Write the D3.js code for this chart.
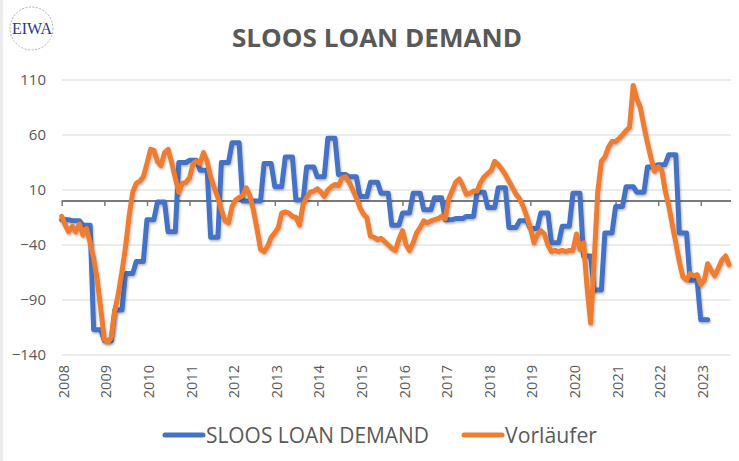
<!DOCTYPE html>
<html>
<head>
<meta charset="utf-8">
<script src="https://cdn.jsdelivr.net/npm/d3@7"></script>
<style>
  body { margin: 0; background: #fff; }
  text { font-family: "Open Sans", sans-serif; }
</style>
</head>
<body>
<div id="chart"></div>
<script>
const years = [2008, 2009, 2010, 2011, 2012, 2013, 2014, 2015, 2016, 2017, 2018, 2019, 2020, 2021, 2022, 2023];
const yTicks = [-140, -90, -40, 10, 60, 110];

// SLOOS loan demand, quarterly from Q1 2008 to Q1 2023
const sloosDemand = [
  -17, -18, -22, -117,
  -127, -99, -66, -55,
  -17, -1, -28, 35,
  37, 28, -33, 35,
  53, 0, 0, 34,
  13, 40, 1, 31,
  22, 57, 24, 22,
  4, 17, 7, -22,
  -11, 7, -8, 3,
  -17, -16, -14, 8,
  -6, 12, -24, -18,
  -25, -11, -38, -23,
  7, -50, -81, -29,
  -5, 13, 8, 31,
  33, 42, -29, -72,
  -108
];

// Vorläufer, monthly from Jan 2008 to Sep 2023
const vorlaeufer = [
  -14, -22, -28, -23, -28, -21, -31, -25, -38, -52, -72, -98,
  -126, -128, -124, -99, -84, -64, -42, -14, 8, 16, 18, 22,
  34, 47, 46, 36, 32, 44, 47, 35, 21, 8, 16, 17,
  21, 34, 36, 34, 44, 36, 22, 12, 3, -8, -18, -20,
  -5, 1, 3, 5, 12, 5, -8, -25, -44, -46, -41, -33,
  -29, -24, -11, -10, -11, -14, -15, -22, -3, 3, 8, 9,
  11, 8, 4, 10, 13, 15, 14, 21, 22, 17, 10, 3,
  -6, -12, -15, -32, -33, -35, -34, -37, -40, -43, -45, -35,
  -27, -40, -45, -38, -29, -24, -18, -20, -18, -17, -16, -14,
  -16, 2, 9, 17, 20, 14, 6, 7, 9, 9, 17, 22,
  25, 28, 36, 33, 29, 24, 18, 12, 6, 2, -5, -14,
  -24, -38, -31, -27, -30, -40, -46, -45, -46, -45, -46, -45,
  -45, -30, -44, -38, -78, -111, -55, 8, 36, 40, 49, 54,
  54, 57, 60, 64, 67, 105, 93, 85, 68, 53, 39, 27,
  31, 28, 10, -4, -21, -38, -55, -69, -72, -66, -68, -67,
  -76, -72, -57, -63, -68, -61, -54, -50, -58
];

const width = 739;
const height = 461;
const textColor = '#595959';

const svg = d3.select('#chart')
  .append('svg')
  .attr('width', width)
  .attr('height', height)

const defs = svg.append('defs')
defs.append('filter')
  .attr('id', 'shadow')
  .attr('x', '-5%').attr('y', '-5%').attr('width', '110%').attr('height', '110%')
  .append('feDropShadow')
  .attr('dx', 0.8).attr('dy', 1.5)
  .attr('stdDeviation', 1.2)
  .attr('flood-color', '#000')
  .attr('flood-opacity', 0.3)

// faint frame strip on the left edge
svg.append('rect')
  .attr('x', 0).attr('y', 0)
  .attr('width', 3).attr('height', height)
  .attr('fill', '#ebebeb')

const xScale = d3.scaleTime()
  .domain([new Date(2008, 0, 1), new Date(2023, 8, 1)])
  .range([61.7, 729.1])

const yScale = d3.scaleLinear()
  .domain([-140, 110])
  .range([355, 80])

// horizontal gridlines
svg.append('g')
  .selectAll('line')
  .data(yTicks)
  .enter()
  .append('line')
  .attr('x1', 62)
  .attr('x2', 731)
  .attr('y1', d => yScale(d))
  .attr('y2', d => yScale(d))
  .attr('stroke', '#d9d9d9')
  .attr('stroke-width', 1)

// y labels
const yAxis = d3.axisLeft(yScale)
  .tickValues(yTicks)
  .tickSize(0)
  .tickPadding(0)
  .tickFormat(d3.format('d'))

svg.append('g')
  .attr('transform', 'translate(46, 0)')
  .call(yAxis)
  .call(g => g.select('.domain').remove())
  .selectAll('text')
  .attr('fill', textColor)
  .style('font-size', '15px')
  .style('font-family', '"Open Sans", sans-serif')

// category axis crossing at zero
const xAxis = d3.axisBottom(xScale)
  .tickValues(years.map(y => new Date(y, 0, 1)))
  .tickSize(5)
  .tickSizeOuter(0)
  .tickFormat('')

svg.append('g')
  .attr('transform', `translate(0, ${yScale(0)})`)
  .call(xAxis)
  .call(g => g.select('.domain').attr('stroke', '#7a7a7a').attr('stroke-width', 2.2).attr('d', `M61.7,0H731`))
  .call(g => g.selectAll('.tick line').attr('stroke', '#7a7a7a').attr('stroke-width', 1.5))

// year labels at the bottom
svg.append('g')
  .selectAll('text')
  .data(years)
  .enter()
  .append('text')
  .attr('transform', d => `translate(${xScale(new Date(d, 0, 1)) + 2}, 365) rotate(-90)`)
  .attr('text-anchor', 'end')
  .attr('dy', '0.35em')
  .attr('fill', textColor)
  .style('font-size', '14.5px')
  .text(d => d)

// series
const sloosPoints = [];
sloosDemand.forEach((v, q) => {
  sloosPoints.push({ date: new Date(2008, q * 3, 1), value: v });
  sloosPoints.push({ date: new Date(2008, q * 3 + 2, 1), value: v });
});

const vorPoints = vorlaeufer.map((v, m) => ({ date: new Date(2008, m, 1), value: v }));

const line = d3.line()
  .x(d => xScale(d.date))
  .y(d => yScale(d.value))

svg.append('path')
  .datum(sloosPoints)
  .attr('d', line)
  .attr('fill', 'none')
  .attr('stroke', '#4472c4')
  .attr('stroke-width', 5)
  .attr('stroke-linejoin', 'round')
  .attr('stroke-linecap', 'round')
  .attr('filter', 'url(#shadow)')

svg.append('path')
  .datum(vorPoints)
  .attr('d', line)
  .attr('fill', 'none')
  .attr('stroke', '#ed7d31')
  .attr('stroke-width', 5)
  .attr('stroke-linejoin', 'round')
  .attr('stroke-linecap', 'round')
  .attr('filter', 'url(#shadow)')

// title
svg.append('text')
  .attr('x', 377)
  .attr('y', 47)
  .attr('text-anchor', 'middle')
  .attr('fill', textColor)
  .attr('textLength', 290)
  .attr('lengthAdjust', 'spacingAndGlyphs')
  .style('font-size', '25px')
  .style('font-weight', 'bold')
  .text('SLOOS LOAN DEMAND')

// legend
const legendItems = [
  { label: 'SLOOS LOAN DEMAND', color: '#4472c4', x: 163, textWidth: 223 },
  { label: 'Vorläufer', color: '#ed7d31', x: 462, textWidth: 92 }
];

const legend = svg.append('g')
  .selectAll('g')
  .data(legendItems)
  .enter()
  .append('g')

legend.append('line')
  .attr('x1', d => d.x + 2)
  .attr('x2', d => d.x + 40)
  .attr('y1', 435)
  .attr('y2', 435)
  .attr('stroke', d => d.color)
  .attr('stroke-width', 5)
  .attr('stroke-linecap', 'round')

legend.append('text')
  .attr('x', d => d.x + 43)
  .attr('y', 443)
  .attr('fill', textColor)
  .attr('textLength', d => d.textWidth)
  .attr('lengthAdjust', 'spacingAndGlyphs')
  .style('font-size', '21px')
  .text(d => d.label)

// logo
const logo = svg.append('g')
logo.append('circle')
  .attr('cx', 31.5)
  .attr('cy', 28.5)
  .attr('r', 21.5)
  .attr('fill', 'none')
  .attr('stroke', '#9a9a9a')
  .attr('stroke-width', 0.8)
  .attr('stroke-dasharray', '2,1.5')

logo.append('text')
  .attr('x', 32)
  .attr('y', 34)
  .attr('text-anchor', 'middle')
  .attr('fill', '#2b3a8c')
  .style('font-family', '"Liberation Serif", "DejaVu Serif", serif')
  .style('font-size', '16px')
  .text('EIWA')
</script>
</body>
</html>
